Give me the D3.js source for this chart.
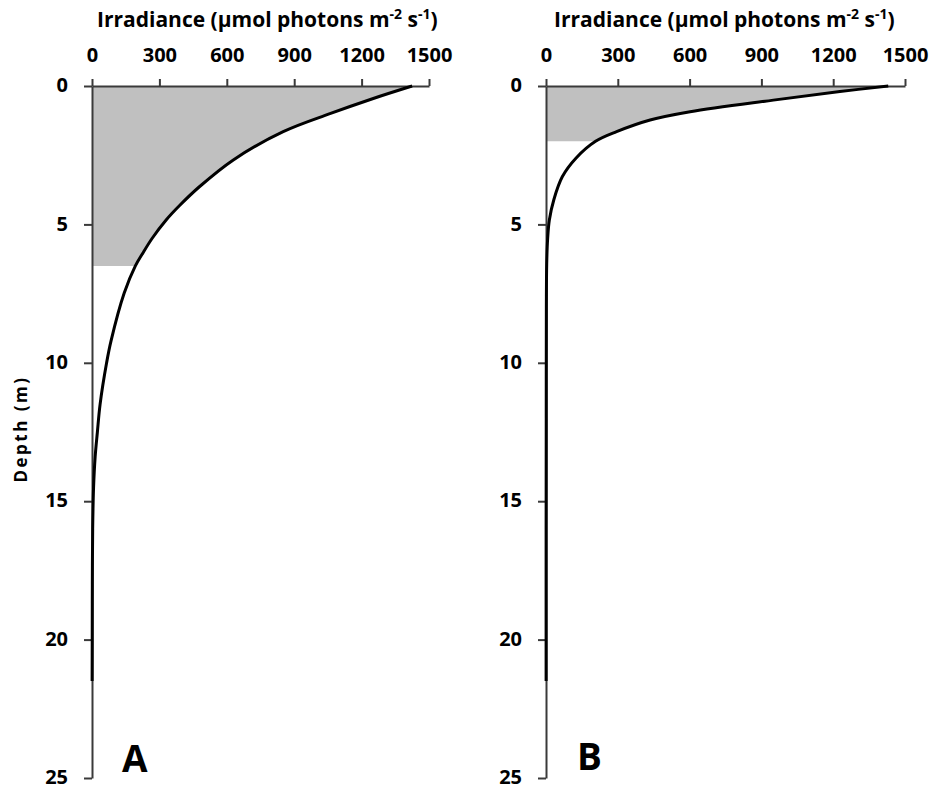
<!DOCTYPE html>
<html>
<head>
<meta charset="utf-8">
<script src="https://cdn.jsdelivr.net/npm/d3@7"></script>
<style>
  body { margin: 0; background: #fff; }
  text { font-family: "Open Sans", sans-serif; font-weight: 700; fill: #000; }
</style>
</head>
<body>
<script>
// irradiance profiles (depth in m, irradiance in umol photons m-2 s-1)
var depthA = [0, 0.45, 1.0, 1.65, 2.67, 3.64, 4.3, 4.84, 5.5, 6.04, 6.5, 7.49, 9.2, 10.0, 11.5, 12.5, 13.4, 14.5, 16, 18, 20, 21.5];
var irrA   = [1425, 1252, 1059, 851, 629, 478, 392, 330, 268, 226, 193, 143, 85, 65, 36, 24, 14, 7, 3, 1.5, 1, 0.5];
var depthB = [0, 0.2, 0.51, 0.93, 1.23, 1.65, 2.0, 2.61, 3.28, 4.1, 4.84, 5.5, 6.4, 8, 12, 16, 21.5];
var irrB   = [1430, 1228, 950, 602, 435, 295, 207, 125, 68, 33, 14, 7, 3, 1.5, 1, 0.5, 0.5];
var shadeDepth = [6.5, 2.0];
var panelLabels = ["A", "B"];
var xTicks = [0, 300, 600, 900, 1200, 1500];
var yTicks = [0, 5, 10, 15, 20, 25];

var width = 934, height = 788;
var svg = d3.select("body").append("svg")
    .attr("width", width)
    .attr("height", height);

var panels = [
    {depth: depthA, irr: irrA, x0: 92, x1: 429, titleX: 97, labelX: 122, labelY: 772},
    {depth: depthB, irr: irrB, x0: 546, x1: 905, titleX: 554, labelX: 577, labelY: 770}
];

var y = d3.scaleLinear().domain([0, 25]).range([86, 778]);

panels.forEach(function (p, i) {
    var x = d3.scaleLinear().domain([0, 1500]).range([p.x0, p.x1]);
    var data = p.depth.map(function (d, j) { return {z: d, v: p.irr[j]}; });
    var g = svg.append("g");

    var area = d3.area()
        .y(function (d) { return y(d.z); })
        .x0(x(0))
        .x1(function (d) { return x(d.v); })
        .curve(d3.curveCatmullRom.alpha(0.5));
    g.append("path")
        .datum(data.filter(function (d) { return d.z <= shadeDepth[i]; }))
        .attr("fill", "#c0c0c0")
        .attr("d", area);

    var xAxis = g.append("g")
        .attr("transform", "translate(0," + y(0) + ")")
        .call(d3.axisTop(x).tickValues(xTicks).tickFormat(d3.format("d"))
            .tickSize(7).tickSizeOuter(0).tickPadding(17));
    var yAxis = g.append("g")
        .attr("transform", "translate(" + x(0) + ",0)")
        .call(d3.axisLeft(y).tickValues(yTicks).tickSize(8).tickSizeOuter(0).tickPadding(16));
    [xAxis, yAxis].forEach(function (a) {
        a.selectAll("path, line").attr("stroke", "#3a3a3a").attr("stroke-width", 2);
        a.selectAll("text")
            .style("font-family", "'Open Sans', sans-serif")
            .style("font-weight", 700)
            .style("font-size", "20px")
            .attr("fill", "#000");
    });
    yAxis.selectAll("text").attr("dy", "0.28em");

    var line = d3.line()
        .x(function (d) { return x(d.v); })
        .y(function (d) { return y(d.z); })
        .curve(d3.curveCatmullRom.alpha(0.5));
    g.append("path")
        .datum(data)
        .attr("fill", "none")
        .attr("stroke", "#000")
        .attr("stroke-width", 3)
        .attr("d", line);

    var title = g.append("text")
        .attr("x", p.titleX)
        .attr("y", 27)
        .style("font-size", "21px");
    title.append("tspan").text("Irradiance (µmol photons m");
    title.append("tspan").attr("dy", -8).style("font-size", "14px").text("-2");
    title.append("tspan").attr("dy", 8).text(" s");
    title.append("tspan").attr("dy", -8).style("font-size", "14px").text("-1");
    title.append("tspan").attr("dy", 8).text(")");

    g.append("text")
        .attr("x", p.labelX)
        .attr("y", p.labelY)
        .style("font-size", "37px")
        .text(panelLabels[i]);
});

svg.append("text")
    .attr("transform", "translate(27,429) rotate(-90)")
    .attr("text-anchor", "middle")
    .style("font-size", "17px")
    .style("letter-spacing", "2.5px")
    .text("Depth (m)");
</script>
</body>
</html>
